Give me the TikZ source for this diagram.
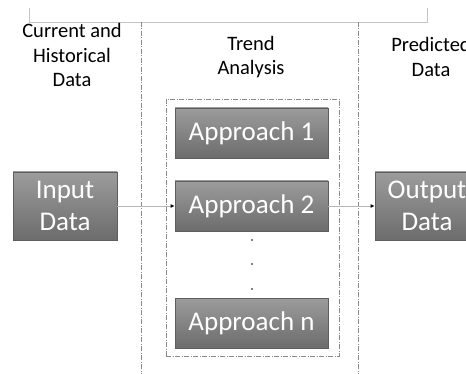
\documentclass[tikz,border=0pt]{standalone}
\usepackage{fontspec}
\setmainfont{Carlito}
\usetikzlibrary{arrows.meta}
\definecolor{boxtop}{HTML}{9C9C9C}
\definecolor{boxbot}{HTML}{6C6C6C}
\definecolor{boxedge}{HTML}{5E5E5E}
\definecolor{sepline}{HTML}{8A8A8A}
\definecolor{bracket}{HTML}{C4C4C4}
\begin{document}
\begin{tikzpicture}[x=1pt,y=-1pt,
  graybox/.style={rectangle,draw=boxedge,line width=0.8pt,top color=boxtop,bottom color=boxbot,
    text=white,align=center,inner sep=0pt,font=\fontsize{27}{32}\selectfont},
  approach/.style={graybox,minimum width=153pt,minimum height=50pt},
  endbox/.style={graybox,minimum width=104pt,minimum height=68pt},
  header/.style={align=center,font=\fontsize{20.5}{24.5}\selectfont,text=black,inner sep=0pt},
  separator/.style={draw=sepline,line width=0.8pt,dash pattern=on 5pt off 1.5pt on 1pt off 1.5pt},
  flow/.style={draw=bracket!80!gray,line width=0.8pt,-{Latex[color=black,length=4pt,width=4pt]}}]
\useasboundingbox (0,0) rectangle (466,374);

% top bracket
\draw[bracket,line width=0.8pt] (29,8) -- (29,22) -- (427,22) -- (427,8);

% column separators
\coordinate (s1t) at (141,22); \coordinate (s1b) at (141,374);
\coordinate (s2t) at (358,22); \coordinate (s2b) at (358,374);
\draw[separator] (s1t) -- (s1b);
\draw[separator] (s2t) -- (s2b);

% column headings
\node[header] (h1) at (72,55) {Current and\\Historical\\Data};
\node[header] (h2) at (251,57) {Trend\\Analysis};
\node[header] (h3) at (431,57) {Predicted\\Data};

% group of approaches
\node[separator,rectangle,minimum width=173pt,minimum height=257pt,inner sep=0pt] (grp) at (252.5,227.5) {};

\node[approach] (a1) at (251.5,133) {Approach 1};
\node[approach] (a2) at (251.5,206) {Approach 2};
\node[approach] (an) at (251.5,323) {Approach n};

\foreach \yy/\nm in {240/d1,264/d2,289/d3}
  \fill (252,\yy) circle (0.9pt) coordinate (\nm);

% input and output
\node[endbox] (in) at (65,206) {Input\\Data};
\node[endbox] (out) at (427,206) {Output\\Data};

\draw[flow] (in.east) -- (a2.west);
\draw[flow] (a2.east) -- (out.west);
\end{tikzpicture}
\end{document}
